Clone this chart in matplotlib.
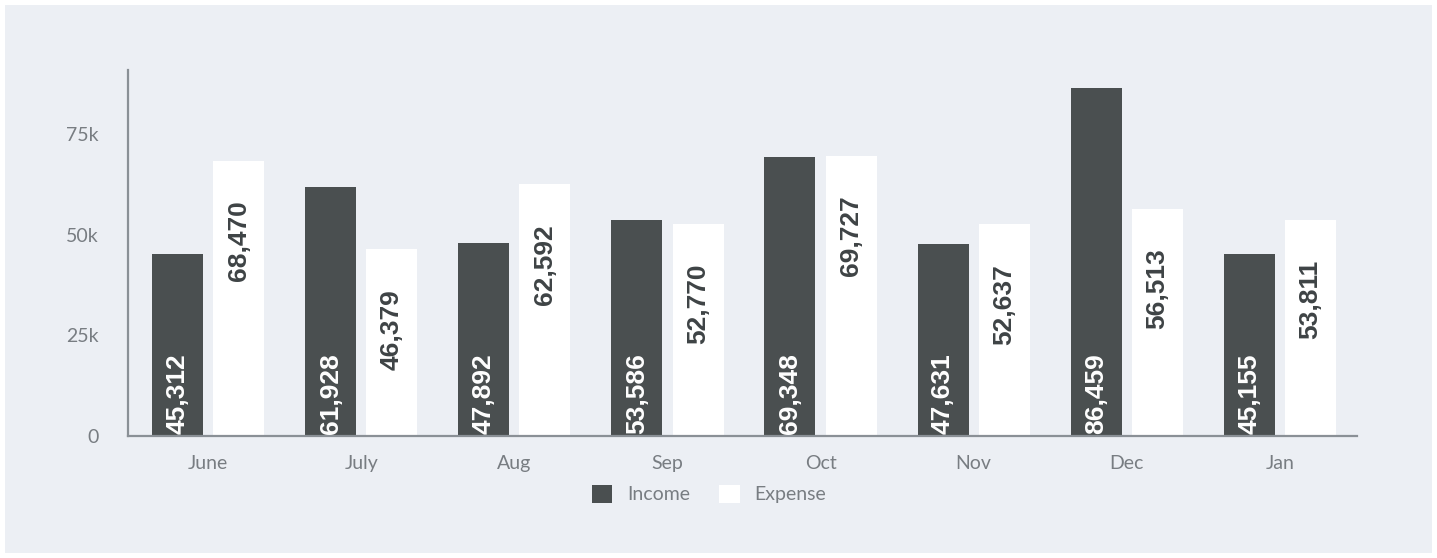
import matplotlib
matplotlib.use("Agg")
import matplotlib.pyplot as plt
from matplotlib.patches import Patch, Rectangle
import numpy as np

# Data
months = ["June", "July", "Aug", "Sep", "Oct", "Nov", "Dec", "Jan"]
income = [45312, 61928, 47892, 53586, 69348, 47631, 86459, 45155]
expense = [68470, 46379, 62592, 52770, 69727, 52637, 56513, 53811]
y_ticks = [0, 25000, 50000, 75000]
y_tick_labels = ["0", "25k", "50k", "75k"]

# Colours
bg = "#eceff4"
income_color = "#4a4f50"
expense_color = "#ffffff"
axis_color = "#8a9096"
text_gray = "#787d82"
label_dark = "#3e4345"

W, H = 1437, 558
fig = plt.figure(figsize=(W / 100, H / 100), dpi=100)
fig.patch.set_facecolor("white")
# light panel behind the chart
fig.patches.append(Rectangle((5 / W, 5 / H), 1 - 10 / W, 1 - 10 / H,
                             transform=fig.transFigure, facecolor=bg,
                             edgecolor="none", zorder=-10))

ax = fig.add_axes([128 / W, (H - 436) / H, (1357 - 128) / W, (436 - 70) / H])
ax.set_facecolor("none")

x = np.arange(len(months))
w = 0.333
b1 = ax.bar(x - 0.2, income, w, color=income_color, zorder=2)
b2 = ax.bar(x + 0.2, expense, w, color=expense_color, zorder=2)

ax.set_xlim(-0.523, 7.503)
ax.set_ylim(0, 91000)

for rect, v in zip(b1, income):
    ax.annotate(f"{v:,}", (rect.get_x() + rect.get_width() / 2, 0),
                xytext=(0, 2), textcoords="offset pixels",
                rotation=90, ha="center", va="bottom",
                fontsize=19, fontweight="bold", color="white",
                family="Liberation Sans", zorder=3)

for rect, v in zip(b2, expense):
    ax.annotate(f"{v:,}", (rect.get_x() + rect.get_width() / 2, v),
                xytext=(0, -40), textcoords="offset pixels",
                rotation=90, ha="center", va="top",
                fontsize=19, fontweight="bold", color=label_dark,
                family="Liberation Sans", zorder=3)

for side in ["top", "right"]:
    ax.spines[side].set_visible(False)
for side in ["left", "bottom"]:
    ax.spines[side].set_color(axis_color)
    ax.spines[side].set_linewidth(1.6)

ax.set_yticks(y_ticks)
ax.set_yticklabels(y_tick_labels)
ax.set_xticks(x)
ax.set_xticklabels(months)
ax.tick_params(axis="y", length=0, pad=21, labelsize=14, labelcolor=text_gray)
ax.tick_params(axis="x", length=0, pad=14, labelsize=14, labelcolor=text_gray)
for lbl in ax.get_xticklabels() + ax.get_yticklabels():
    lbl.set_family("Lato")

handles = [Patch(facecolor=income_color, edgecolor="none", label="Income"),
           Patch(facecolor=expense_color, edgecolor="none", label="Expense")]
leg = fig.legend(handles=handles, loc="center", ncol=2,
                 bbox_to_anchor=(709 / W, 1 - 494 / H), frameon=False,
                 prop={"family": "Lato", "size": 14},
                 handlelength=1.05, handleheight=1.05,
                 handletextpad=0.75, columnspacing=1.5)
for t in leg.get_texts():
    t.set_color(text_gray)

fig.savefig("out.png", dpi=100, facecolor=fig.get_facecolor())
